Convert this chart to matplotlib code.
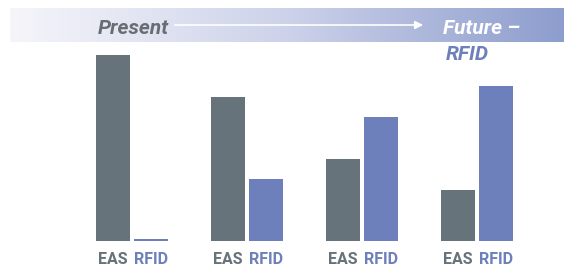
import numpy as np
import matplotlib
matplotlib.use('Agg')
import matplotlib.pyplot as plt
from matplotlib.colors import LinearSegmentedColormap

# --- Data ---
groups = ['1', '2', '3', '4']
eas_values = [186, 144, 82, 51]
rfid_values = [2, 62, 124, 155]
bar_labels = ['EAS', 'RFID']

# --- Style ---
EAS_COLOR = '#67737a'
RFID_COLOR = '#6d80bb'
FONT = ['Roboto', 'DejaVu Sans']

fig = plt.figure(figsize=(5.64, 2.68), dpi=100)
ax = fig.add_axes([0, 0, 1, 1])
ax.set_xlim(0, 564)
ax.set_ylim(-27, 241)
ax.axis('off')

# banner gradient
grad = np.linspace(0, 1, 256).reshape(1, -1)
cmap = LinearSegmentedColormap.from_list('banner', ['#f5f5fa', '#cdd2ea', '#8d9dcd'])
ax.imshow(grad, extent=(10, 564, 199, 233), aspect='auto', cmap=cmap, zorder=0)

ax.text(98, 213, 'Present', family=FONT, style='italic', fontsize=15,
        weight='bold', color='#676d72', va='center', ha='left')
ax.annotate('', xy=(426, 216), xytext=(172, 216),
            arrowprops=dict(arrowstyle='-|>', color='white', lw=1.2,
                            mutation_scale=12))
ax.text(443, 213, 'Future \u2013', family=FONT, style='italic', fontsize=15,
        weight='bold', color='white', va='center', ha='left')
ax.text(446, 186, 'RFID', family=FONT, style='italic', fontsize=15,
        weight='bold', color=RFID_COLOR, va='center', ha='left')

# --- Bars ---
x = 132 + 115 * np.arange(len(groups))
width = 34
ax.bar(x - 19, eas_values, width, color=EAS_COLOR, zorder=2)
ax.bar(x + 19, rfid_values, width, color=RFID_COLOR, zorder=2)

for xi in x:
    ax.text(xi - 19, -18, bar_labels[0], family=FONT, fontsize=11.5,
            weight='bold', color=EAS_COLOR, ha='center', va='center')
    ax.text(xi + 19, -18, bar_labels[1], family=FONT, fontsize=11.5,
            weight='bold', color=RFID_COLOR, ha='center', va='center')

fig.savefig('out.png', dpi=100)
